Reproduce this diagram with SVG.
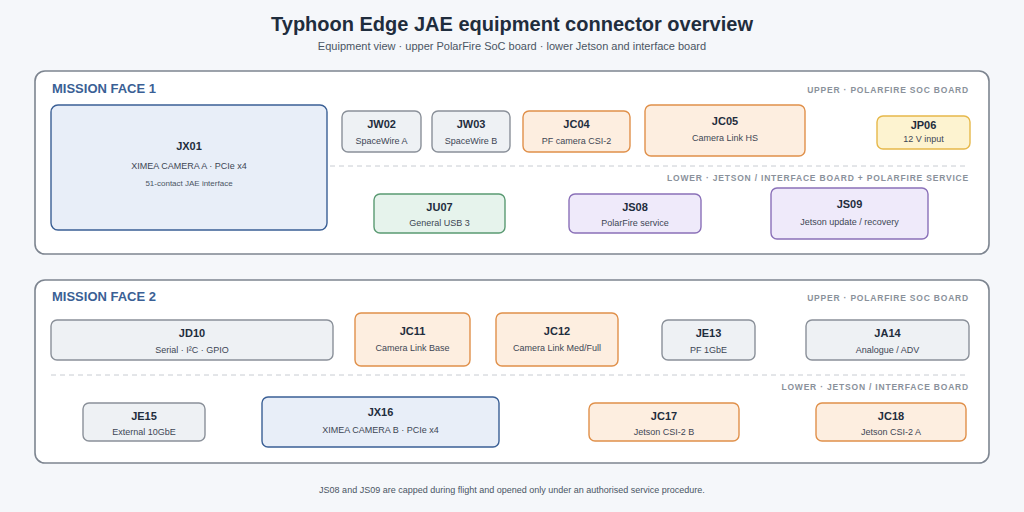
<svg xmlns="http://www.w3.org/2000/svg" width="1024" height="512" viewBox="0 0 1024 512">
<style>
text{font-family:"Liberation Sans",Arial,sans-serif;text-anchor:middle}
.t{font-size:20px;font-weight:bold;fill:#1f2d3d}
.st{font-size:11px;fill:#4a5563}
.pn{fill:#fff;stroke:#7d8590;stroke-width:1.6}
.face{font-size:13px;font-weight:bold;fill:#3a5f95;text-anchor:start}
.lay{font-size:8.5px;font-weight:bold;fill:#8a919b;letter-spacing:0.8px;text-anchor:end}
.dash{stroke:#c8ccd2;stroke-dasharray:5 4;stroke-width:1}
.n{font-size:11px;font-weight:bold;fill:#1f2d3d}
.s{font-size:9px;fill:#3d4654}
.s2{font-size:8px;fill:#4a5563}
.blue{fill:#e8eef8;stroke:#3a5f95;stroke-width:1.4}
.gray{fill:#eef1f4;stroke:#8a9099;stroke-width:1.4}
.org{fill:#fdeee0;stroke:#e0904a;stroke-width:1.4}
.yel{fill:#fdf3d0;stroke:#e6b84a;stroke-width:1.4}
.grn{fill:#e6f3ec;stroke:#5a9a72;stroke-width:1.4}
.pur{fill:#efeafa;stroke:#8a70b8;stroke-width:1.4}
.f{font-size:9px;fill:#4a5563}
</style>
<rect width="1024" height="512" fill="#f5f7fa"/>
<text class="t" x="512" y="31">Typhoon Edge JAE equipment connector overview</text>
<text class="st" x="512" y="50">Equipment view · upper PolarFire SoC board · lower Jetson and interface board</text>
<g id="face1">
<rect class="pn" x="35" y="71" width="954" height="183" rx="10"/>
<text class="face" x="52" y="93">MISSION FACE 1</text>
<text class="lay" x="969" y="93">UPPER · POLARFIRE SOC BOARD</text>
<line class="dash" x1="330" y1="166" x2="969" y2="166"/>
<text class="lay" x="969" y="181">LOWER · JETSON / INTERFACE BOARD + POLARFIRE SERVICE</text>
</g>
<g id="face2">
<rect class="pn" x="35" y="280" width="954" height="183" rx="10"/>
<text class="face" x="52" y="301">MISSION FACE 2</text>
<text class="lay" x="969" y="301">UPPER · POLARFIRE SOC BOARD</text>
<line class="dash" x1="51" y1="375" x2="969" y2="375"/>
<text class="lay" x="969" y="390">LOWER · JETSON / INTERFACE BOARD</text>
</g>
<g id="connectors"></g>
<g id="JX01"><rect class="blue" x="51" y="105" width="276" height="125" rx="7"/><text class="n" x="189" y="150">JX01</text><text class="s" x="189" y="169">XIMEA CAMERA A · PCIe x4</text><text class="s2" x="189" y="186">51-contact JAE interface</text></g>
<g id="JW02"><rect class="gray" x="342" y="111" width="79" height="41" rx="6"/><text class="n" x="381.5" y="128">JW02</text><text class="s" x="381.5" y="144">SpaceWire A</text></g>
<g id="JW03"><rect class="gray" x="432" y="111" width="78" height="41" rx="6"/><text class="n" x="471" y="128">JW03</text><text class="s" x="471" y="144">SpaceWire B</text></g>
<g id="JC04"><rect class="org" x="523" y="111" width="107" height="41" rx="6"/><text class="n" x="576.5" y="128">JC04</text><text class="s" x="576.5" y="144">PF camera CSI-2</text></g>
<g id="JC05"><rect class="org" x="645" y="105" width="160" height="51" rx="6"/><text class="n" x="725" y="125">JC05</text><text class="s" x="725" y="141">Camera Link HS</text></g>
<g id="JP06"><rect class="yel" x="877" y="116" width="93" height="33" rx="6"/><text class="n" x="923.5" y="129">JP06</text><text class="s" x="923.5" y="142">12 V input</text></g>
<g id="JU07"><rect class="grn" x="374" y="194" width="131" height="39" rx="6"/><text class="n" x="439.5" y="211">JU07</text><text class="s" x="439.5" y="226">General USB 3</text></g>
<g id="JS08"><rect class="pur" x="569" y="194" width="132" height="39" rx="6"/><text class="n" x="635" y="211">JS08</text><text class="s" x="635" y="226">PolarFire service</text></g>
<g id="JS09"><rect class="pur" x="771" y="188" width="157" height="51" rx="6"/><text class="n" x="849.5" y="208">JS09</text><text class="s" x="849.5" y="225">Jetson update / recovery</text></g>
<g id="JD10"><rect class="gray" x="51" y="320" width="282" height="40" rx="6"/><text class="n" x="192" y="337">JD10</text><text class="s" x="192" y="353">Serial · I²C · GPIO</text></g>
<g id="JC11"><rect class="org" x="355" y="313" width="115" height="53" rx="6"/><text class="n" x="412.5" y="335">JC11</text><text class="s" x="412.5" y="351">Camera Link Base</text></g>
<g id="JC12"><rect class="org" x="496" y="313" width="122" height="53" rx="6"/><text class="n" x="557" y="335">JC12</text><text class="s" x="557" y="351">Camera Link Med/Full</text></g>
<g id="JE13"><rect class="gray" x="662" y="320" width="93" height="40" rx="6"/><text class="n" x="708.5" y="337">JE13</text><text class="s" x="708.5" y="353">PF 1GbE</text></g>
<g id="JA14"><rect class="gray" x="806" y="320" width="163" height="40" rx="6"/><text class="n" x="887.5" y="337">JA14</text><text class="s" x="887.5" y="353">Analogue / ADV</text></g>
<g id="JE15"><rect class="gray" x="83" y="403" width="122" height="38" rx="6"/><text class="n" x="144" y="420">JE15</text><text class="s" x="144" y="435">External 10GbE</text></g>
<g id="JX16"><rect class="blue" x="262" y="397" width="237" height="50" rx="6"/><text class="n" x="380.5" y="416">JX16</text><text class="s" x="380.5" y="433">XIMEA CAMERA B · PCIe x4</text></g>
<g id="JC17"><rect class="org" x="589" y="403" width="150" height="38" rx="6"/><text class="n" x="664" y="420">JC17</text><text class="s" x="664" y="435">Jetson CSI-2 B</text></g>
<g id="JC18"><rect class="org" x="816" y="403" width="150" height="38" rx="6"/><text class="n" x="891" y="420">JC18</text><text class="s" x="891" y="435">Jetson CSI-2 A</text></g>
<text class="f" x="512" y="493">JS08 and JS09 are capped during flight and opened only under an authorised service procedure.</text>
</svg>
